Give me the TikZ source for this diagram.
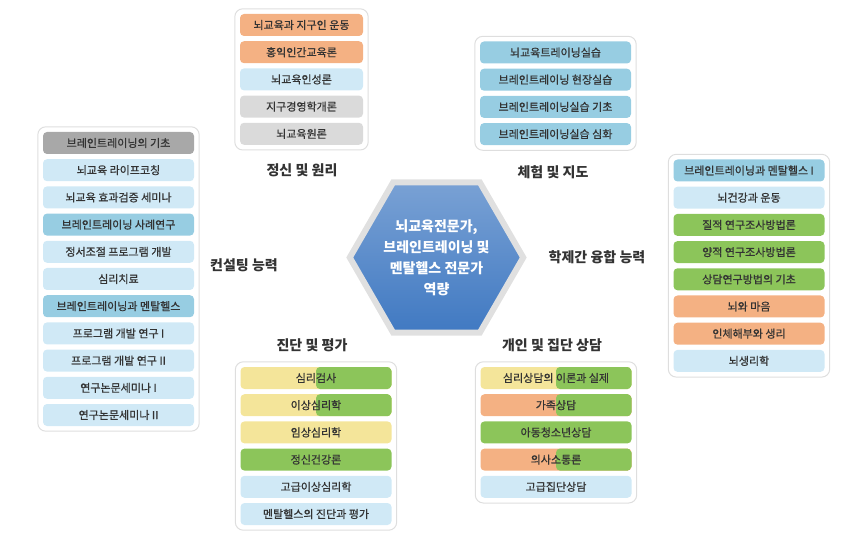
\documentclass[tikz,border=0pt]{standalone}
\usepackage{fontspec}
\setmainfont{Noto Sans CJK KR}
\newfontfamily\coursefont[FakeBold=0.8]{Noto Sans CJK KR}
\usepackage{tikz}
\usetikzlibrary{positioning,fit,shapes.geometric}

\definecolor{peach}{HTML}{F4B183}
\definecolor{skyblue}{HTML}{D0E9F6}
\definecolor{midblue}{HTML}{97CDE2}
\definecolor{lightgrey}{HTML}{DADADA}
\definecolor{darkgrey}{HTML}{A8A8A8}
\definecolor{leaf}{HTML}{8CC55A}
\definecolor{butter}{HTML}{F4E59A}
\definecolor{inkgrey}{HTML}{333333}
\definecolor{hexblue}{HTML}{4079C2}

\begin{document}
\begin{tikzpicture}[
  x=1pt, y=-1pt,
  node distance=4.8pt,
  course/.style={fill=#1, rounded corners=4pt, minimum width=151pt, minimum height=22pt, inner sep=0pt, text=inkgrey, font=\coursefont\fontsize{11}{13}\selectfont},
  halfcourse/.style 2 args={course=#1, path picture={\fill[#2] (path picture bounding box.north) rectangle (path picture bounding box.south east);}},
  frame/.style={draw=black!13, line width=1pt, rounded corners=8pt, inner sep=5pt},
  group/.style={text=inkgrey, font=\bfseries\fontsize{14}{16}\selectfont},
  core/.style={regular polygon, regular polygon sides=6, minimum size=161pt, inner sep=0pt, draw=black!12, line width=6pt, top color=hexblue!70!white, bottom color=hexblue, text=white, align=center, font=\bfseries\fontsize{14}{21}\selectfont}
]
\useasboundingbox (0,0) rectangle (860,540);

% centre
\node[core] (hex) at (436.5,257.5) {뇌교육전문가,\\브레인트레이닝 및\\멘탈헬스 전문가\\역량};

% 정신 및 원리
\node[course=peach, minimum width=123pt] (a1) at (301.5,25) {뇌교육과 지구인 운동};
\node[course=peach, minimum width=123pt, below=of a1] (a2) {홍익인간교육론};
\node[course=skyblue, minimum width=123pt, below=of a2] (a3) {뇌교육인성론};
\node[course=lightgrey, minimum width=123pt, below=of a3] (a4) {지구경영학개론};
\node[course=lightgrey, minimum width=123pt, below=of a4] (a5) {뇌교육원론};
\node[frame, fit=(a1)(a5)] (fa) {};
\node[group] (la) at (302,170) {정신 및 원리};

% 체험 및 지도
\node[course=midblue] (b1) at (555.5,52.5) {뇌교육트레이닝실습};
\node[course=midblue, below=of b1] (b2) {브레인트레이닝 현장실습};
\node[course=midblue, below=of b2] (b3) {브레인트레이닝실습 기초};
\node[course=midblue, below=of b3] (b4) {브레인트레이닝실습 심화};
\node[frame, fit=(b1)(b4)] (fb) {};
\node[group] (lb) at (553,172) {체험 및 지도};

% 컨설팅 능력
\node[course=darkgrey] (c1) at (118.5,143) {브레인트레이닝의 기초};
\node[course=skyblue, below=of c1] (c2) {뇌교육 라이프코칭};
\node[course=skyblue, below=of c2] (c3) {뇌교육 효과검증 세미나};
\node[course=midblue, below=of c3] (c4) {브레인트레이닝 사례연구};
\node[course=skyblue, below=of c4] (c5) {정서조절 프로그램 개발};
\node[course=skyblue, below=of c5] (c6) {심리치료};
\node[course=midblue, below=of c6] (c7) {브레인트레이닝과 멘탈헬스};
\node[course=skyblue, below=of c7] (c8) {프로그램 개발 연구 I};
\node[course=skyblue, below=of c8] (c9) {프로그램 개발 연구 II};
\node[course=skyblue, below=of c9] (c10) {연구논문세미나 I};
\node[course=skyblue, below=of c10] (c11) {연구논문세미나 II};
\node[frame, fit=(c1)(c11)] (fc) {};
\node[group] (lc) at (244,265) {컨설팅 능력};

% 학제간 융합 능력
\node[course=midblue] (d1) at (749,170.5) {브레인트레이닝과 멘탈헬스 I};
\node[course=skyblue, below=of d1] (d2) {뇌건강과 운동};
\node[course=leaf, below=of d2] (d3) {질적 연구조사방법론};
\node[course=leaf, below=of d3] (d4) {양적 연구조사방법론};
\node[course=leaf, below=of d4] (d5) {상담연구방법의 기초};
\node[course=peach, below=of d5] (d6) {뇌와 마음};
\node[course=peach, below=of d6] (d7) {인체해부와 생리};
\node[course=skyblue, below=of d7] (d8) {뇌생리학};
\node[frame, fit=(d1)(d8)] (fd) {};
\node[group] (ld) at (597,257) {학제간 융합 능력};

% 진단 및 평가
\node[halfcourse={butter}{leaf}] (e1) at (316,378) {심리검사};
\node[halfcourse={butter}{leaf}, below=of e1] (e2) {이상심리학};
\node[course=butter, below=of e2] (e3) {임상심리학};
\node[course=leaf, below=of e3] (e4) {정신건강론};
\node[course=skyblue, below=of e4] (e5) {고급이상심리학};
\node[course=skyblue, below=of e5] (e6) {멘탈헬스의 진단과 평가};
\node[frame, fit=(e1)(e6)] (fe) {};
\node[group] (le) at (312,345) {진단 및 평가};

% 개인 및 집단 상담
\node[halfcourse={butter}{leaf}] (f1) at (556,378) {심리상담의 이론과 실제};
\node[halfcourse={peach}{leaf}, below=of f1] (f2) {가족상담};
\node[course=leaf, below=of f2] (f3) {아동청소년상담};
\node[halfcourse={peach}{leaf}, below=of f3] (f4) {의사소통론};
\node[course=skyblue, below=of f4] (f5) {고급집단상담};
\node[frame, fit=(f1)(f5)] (ff) {};
\node[group] (lf) at (552,345) {개인 및 집단 상담};
\end{tikzpicture}
\end{document}
